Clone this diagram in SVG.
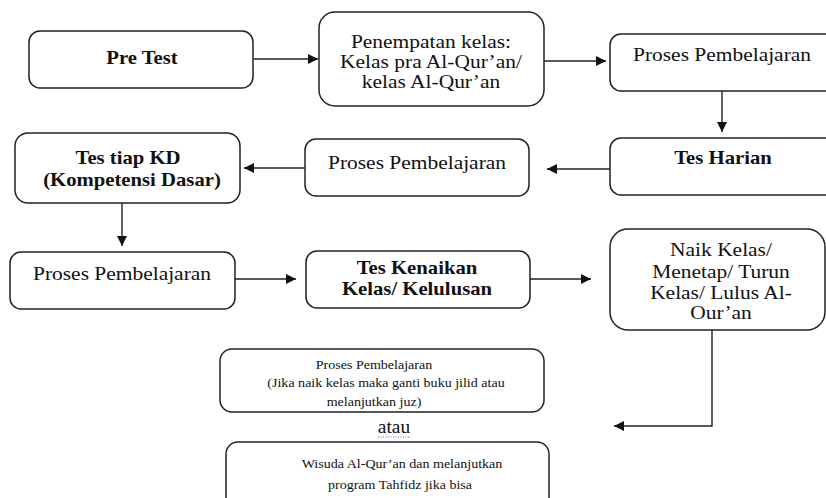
<svg xmlns="http://www.w3.org/2000/svg" width="826" height="498" viewBox="0 0 826 498">
<defs>
<style>
.box{fill:#fff;stroke:#222;stroke-width:1.5}
.t{font-family:'Liberation Serif','DejaVu Serif',Tinos,'Times New Roman',serif;font-size:18.5px;text-anchor:middle;fill:#111}
.b{font-weight:bold}
.s{font-size:13.5px}
.c{fill:none;stroke:#222;stroke-width:1.4}
</style>
<marker id="ah" viewBox="0 0 10 10" refX="10" refY="5" markerWidth="10" markerHeight="10" markerUnits="userSpaceOnUse" orient="auto">
<path d="M0,0 L10,5 L0,10 z" fill="#111"/>
</marker>
</defs>
<rect width="826" height="498" fill="#fff"/>

<g id="connectors">
<line class="c" x1="254" y1="59" x2="318" y2="59" marker-end="url(#ah)"/>
<line class="c" x1="544" y1="61" x2="606" y2="61" marker-end="url(#ah)"/>
<line class="c" x1="722" y1="91" x2="722" y2="132" marker-end="url(#ah)"/>
<line class="c" x1="610" y1="169" x2="547" y2="169" marker-end="url(#ah)"/>
<line class="c" x1="305" y1="168" x2="244" y2="168" marker-end="url(#ah)"/>
<line class="c" x1="122" y1="203" x2="122" y2="246" marker-end="url(#ah)"/>
<line class="c" x1="235" y1="279" x2="296" y2="279" marker-end="url(#ah)"/>
<line class="c" x1="530" y1="279" x2="591" y2="279" marker-end="url(#ah)"/>
<polyline class="c" points="712,330 712,426 614,426" marker-end="url(#ah)"/>
</g>

<g id="n-pretest">
<rect class="box" x="29" y="31" width="224" height="57" rx="11"/>
<text class="t b" transform="translate(142,64) scale(1.12,1)">Pre Test</text>
</g>

<g id="n-penempatan">
<rect class="box" x="319" y="12" width="225" height="94" rx="16"/>
<text class="t" transform="translate(431,48) scale(1.16,1)">Penempatan kelas:</text>
<text class="t" transform="translate(431,68) scale(1.16,1)">Kelas pra Al-Qur’an/</text>
<text class="t" transform="translate(431,88) scale(1.16,1)">kelas Al-Qur’an</text>
</g>

<g id="n-proses1">
<rect class="box" x="610" y="34" width="226" height="57" rx="11"/>
<text class="t" transform="translate(722,61) scale(1.16,1)">Proses Pembelajaran</text>
</g>

<g id="n-tesharian">
<rect class="box" x="610" y="138" width="226" height="57" rx="11"/>
<text class="t b" transform="translate(723,164) scale(1.12,1)">Tes Harian</text>
</g>

<g id="n-proses2">
<rect class="box" x="305" y="139" width="224" height="57" rx="11"/>
<text class="t" transform="translate(417,169) scale(1.16,1)">Proses Pembelajaran</text>
</g>

<g id="n-testiapkd">
<rect class="box" x="15" y="133" width="225" height="70" rx="13"/>
<text class="t b" transform="translate(128,164) scale(1.12,1)">Tes tiap KD</text>
<text class="t b" transform="translate(132,186) scale(1.12,1)">(Kompetensi Dasar)</text>
</g>

<g id="n-proses3">
<rect class="box" x="10" y="252" width="225" height="57" rx="11"/>
<text class="t" transform="translate(122,280) scale(1.16,1)">Proses Pembelajaran</text>
</g>

<g id="n-teskenaikan">
<rect class="box" x="306" y="251" width="224" height="57" rx="11"/>
<text class="t b" transform="translate(417,274) scale(1.12,1)">Tes Kenaikan</text>
<text class="t b" transform="translate(417,295) scale(1.12,1)">Kelas/ Kelulusan</text>
</g>

<g id="n-naikkelas">
<rect class="box" x="610" y="229" width="215" height="101" rx="18"/>
<text class="t" transform="translate(721,256) scale(1.16,1)">Naik Kelas/</text>
<text class="t" transform="translate(721,278) scale(1.16,1)">Menetap/ Turun</text>
<text class="t" transform="translate(721,299) scale(1.16,1)">Kelas/ Lulus Al-</text>
<text class="t" transform="translate(721,319) scale(1.16,1)">Our’an</text>
</g>

<g id="n-proses4">
<rect class="box" x="220" y="349" width="324" height="63" rx="12"/>
<text class="t s" transform="translate(374,369) scale(1.04,1)">Proses Pembelajaran</text>
<text class="t s" transform="translate(386,387) scale(1.04,1)">(Jika naik kelas maka ganti buku jilid atau</text>
<text class="t s" transform="translate(374,406) scale(1.04,1)">melanjutkan juz)</text>
</g>

<g id="atau">
<text class="t" style="font-size:18px" transform="translate(394,433) scale(1.08,1)">atau</text>
<line x1="378" y1="437" x2="411" y2="437" stroke="#5573c8" stroke-width="1" stroke-dasharray="1,1.5"/>
</g>

<g id="n-wisuda">
<rect class="box" x="226" y="442" width="323" height="75" rx="12"/>
<text class="t s" transform="translate(402,468) scale(1.04,1)">Wisuda Al-Qur’an dan melanjutkan</text>
<text class="t s" transform="translate(400,489) scale(1.04,1)">program Tahfidz jika bisa</text>
</g>
</svg>
